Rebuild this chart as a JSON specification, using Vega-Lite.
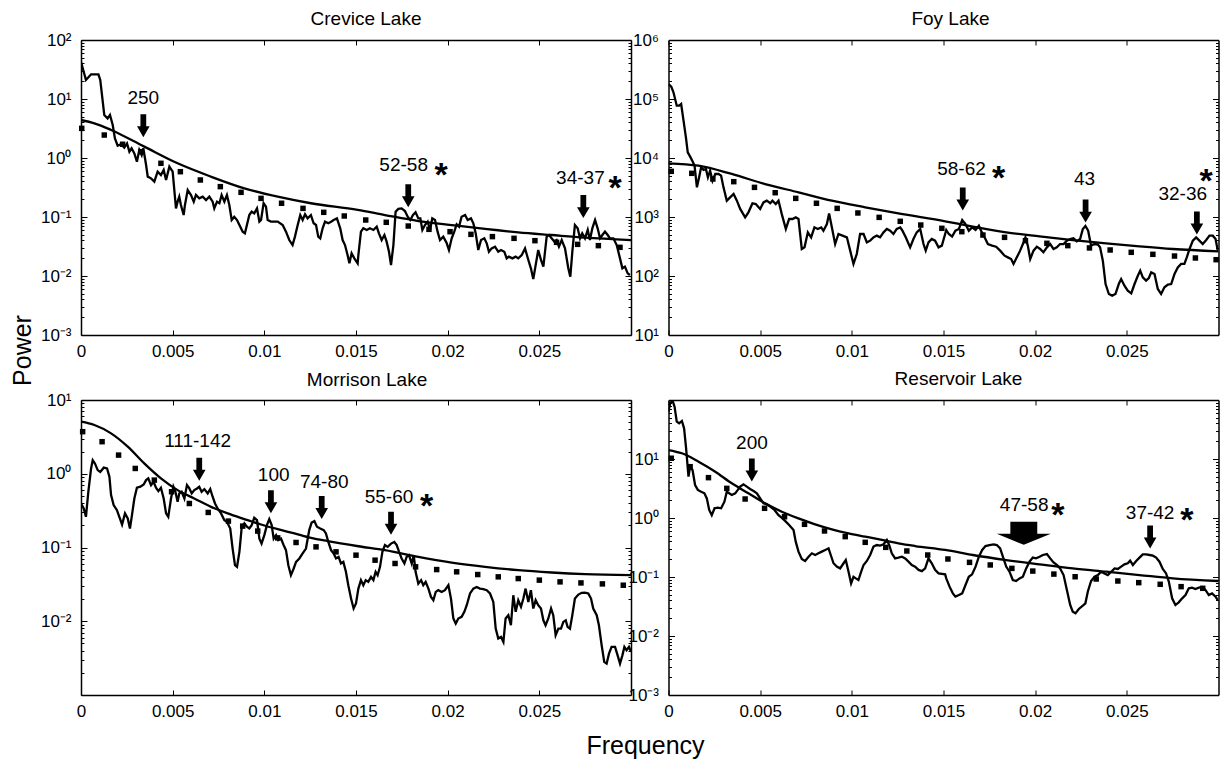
{
"$schema": "https://vega.github.io/schema/vega-lite/v6.json",
"autosize": {"type": "none"},
"padding": {"left": 81, "top": 40, "right": 1141, "bottom": 723},
"background": "white",
"config": {
  "font": "Liberation Sans",
  "view": {"stroke": null},
  "title": {"fontSize": 19, "fontWeight": "normal", "font": "Liberation Sans", "color": "black", "anchor": "middle", "frame": "group", "baseline": "alphabetic"},
  "axis": {"grid": false, "tickSize": -5, "tickColor": "black", "tickWidth": 1, "domainColor": "black", "domainWidth": 1.5, "labelFont": "Liberation Sans", "labelFontSize": 17, "labelColor": "black", "labelFlush": false, "labelOverlap": false, "labelPadding": 16, "titleFont": "Liberation Sans", "titleFontSize": 25, "titleFontWeight": "normal", "titleColor": "black"},
  "text": {"font": "Liberation Sans", "color": "black"}
},
"datasets": {
"cs": [{"f":0,"p":42.9},{"f":0.00027,"p":21},{"f":0.00055,"p":26.2},{"f":0.00095,"p":26.2},{"f":0.00105,"p":21},{"f":0.00127,"p":5.36},{"f":0.00145,"p":4.7},{"f":0.00158,"p":5.36},{"f":0.00173,"p":3.62},{"f":0.00185,"p":2.15},{"f":0.002,"p":1.62},{"f":0.00218,"p":1.71},{"f":0.00236,"p":1.5},{"f":0.00251,"p":1.77},{"f":0.00264,"p":1.28},{"f":0.00276,"p":1.46},{"f":0.00291,"p":1.2},{"f":0.00305,"p":0.867},{"f":0.00318,"p":1.37},{"f":0.00331,"p":1.12},{"f":0.0034,"p":1.46},{"f":0.00355,"p":0.76},{"f":0.00364,"p":0.483},{"f":0.00382,"p":0.452},{"f":0.004,"p":0.397},{"f":0.00418,"p":0.586},{"f":0.00436,"p":0.515},{"f":0.00451,"p":0.627},{"f":0.00464,"p":0.424},{"f":0.00482,"p":0.713},{"f":0.005,"p":0.586},{"f":0.00518,"p":0.14},{"f":0.00527,"p":0.182},{"f":0.00536,"p":0.221},{"f":0.00545,"p":0.16},{"f":0.0056,"p":0.108},{"f":0.00567,"p":0.16},{"f":0.00582,"p":0.287},{"f":0.006,"p":0.236},{"f":0.00615,"p":0.182},{"f":0.00627,"p":0.236},{"f":0.00645,"p":0.207},{"f":0.00664,"p":0.221},{"f":0.00682,"p":0.194},{"f":0.007,"p":0.221},{"f":0.00718,"p":0.182},{"f":0.00727,"p":0.14},{"f":0.00742,"p":0.182},{"f":0.00755,"p":0.171},{"f":0.00767,"p":0.236},{"f":0.00782,"p":0.182},{"f":0.00796,"p":0.236},{"f":0.00809,"p":0.16},{"f":0.00822,"p":0.0889},{"f":0.00836,"p":0.101},{"f":0.00851,"p":0.0889},{"f":0.00864,"p":0.0731},{"f":0.00882,"p":0.0564},{"f":0.00894,"p":0.0528},{"f":0.00905,"p":0.0731},{"f":0.00918,"p":0.108},{"f":0.00931,"p":0.123},{"f":0.00945,"p":0.115},{"f":0.0096,"p":0.14},{"f":0.00973,"p":0.0834},{"f":0.00982,"p":0.0889},{"f":0.00996,"p":0.171},{"f":0.01009,"p":0.15},{"f":0.01018,"p":0.0889},{"f":0.01036,"p":0.0834},{"f":0.01054,"p":0.0834},{"f":0.01073,"p":0.0834},{"f":0.011,"p":0.0731},{"f":0.01118,"p":0.0564},{"f":0.01136,"p":0.0407},{"f":0.01154,"p":0.0335},{"f":0.01167,"p":0.0465},{"f":0.01182,"p":0.0731},{"f":0.01196,"p":0.108},{"f":0.01209,"p":0.0889},{"f":0.01222,"p":0.111},{"f":0.01236,"p":0.0948},{"f":0.01254,"p":0.108},{"f":0.01269,"p":0.0782},{"f":0.01282,"p":0.0731},{"f":0.01294,"p":0.0465},{"f":0.01305,"p":0.0435},{"f":0.01318,"p":0.0643},{"f":0.01331,"p":0.0834},{"f":0.01349,"p":0.0782},{"f":0.01364,"p":0.0834},{"f":0.01378,"p":0.0889},{"f":0.01396,"p":0.0948},{"f":0.01414,"p":0.0643},{"f":0.01427,"p":0.0407},{"f":0.0144,"p":0.0335},{"f":0.01454,"p":0.0227},{"f":0.01464,"p":0.0164},{"f":0.01476,"p":0.0242},{"f":0.01491,"p":0.0199},{"f":0.01509,"p":0.0164},{"f":0.01513,"p":0.0227},{"f":0.01527,"p":0.0564},{"f":0.0154,"p":0.0643},{"f":0.01558,"p":0.0603},{"f":0.01576,"p":0.0643},{"f":0.01595,"p":0.0603},{"f":0.01613,"p":0.0686},{"f":0.01625,"p":0.0528},{"f":0.0164,"p":0.0407},{"f":0.01655,"p":0.0495},{"f":0.01667,"p":0.0382},{"f":0.0168,"p":0.0258},{"f":0.01691,"p":0.0153},{"f":0.01704,"p":0.0335},{"f":0.01716,"p":0.123},{"f":0.01731,"p":0.137},{"f":0.01749,"p":0.14},{"f":0.01767,"p":0.126},{"f":0.01782,"p":0.101},{"f":0.01796,"p":0.0889},{"f":0.01811,"p":0.108},{"f":0.01825,"p":0.12},{"f":0.0184,"p":0.0948},{"f":0.01851,"p":0.0948},{"f":0.01862,"p":0.0603},{"f":0.01876,"p":0.0731},{"f":0.01891,"p":0.0834},{"f":0.01904,"p":0.0603},{"f":0.01916,"p":0.0948},{"f":0.01931,"p":0.0889},{"f":0.01945,"p":0.0564},{"f":0.01958,"p":0.0407},{"f":0.01976,"p":0.0465},{"f":0.01995,"p":0.0358},{"f":0.02007,"p":0.0276},{"f":0.02022,"p":0.0435},{"f":0.02036,"p":0.0564},{"f":0.02049,"p":0.0752},{"f":0.02062,"p":0.0686},{"f":0.02076,"p":0.101},{"f":0.02095,"p":0.108},{"f":0.02109,"p":0.0889},{"f":0.02127,"p":0.0948},{"f":0.0214,"p":0.0782},{"f":0.02153,"p":0.0528},{"f":0.02167,"p":0.0276},{"f":0.02182,"p":0.0407},{"f":0.022,"p":0.0435},{"f":0.02213,"p":0.0358},{"f":0.02225,"p":0.0258},{"f":0.0224,"p":0.0294},{"f":0.02258,"p":0.0314},{"f":0.02276,"p":0.0258},{"f":0.02291,"p":0.0276},{"f":0.02309,"p":0.0258},{"f":0.02322,"p":0.0199},{"f":0.02334,"p":0.0213},{"f":0.02353,"p":0.0199},{"f":0.02371,"p":0.0213},{"f":0.02385,"p":0.0199},{"f":0.02404,"p":0.0227},{"f":0.02422,"p":0.0294},{"f":0.0244,"p":0.0187},{"f":0.02454,"p":0.0135},{"f":0.02467,"p":0.00889},{"f":0.0248,"p":0.0153},{"f":0.02494,"p":0.0276},{"f":0.02509,"p":0.0187},{"f":0.02522,"p":0.0144},{"f":0.0254,"p":0.0465},{"f":0.02553,"p":0.0495},{"f":0.02567,"p":0.0435},{"f":0.02582,"p":0.0382},{"f":0.02594,"p":0.0407},{"f":0.02607,"p":0.0314},{"f":0.02622,"p":0.0407},{"f":0.0264,"p":0.0294},{"f":0.02658,"p":0.0135},{"f":0.02669,"p":0.00975},{"f":0.0268,"p":0.0258},{"f":0.02694,"p":0.0731},{"f":0.02709,"p":0.0643},{"f":0.02722,"p":0.0435},{"f":0.02734,"p":0.0528},{"f":0.02749,"p":0.0435},{"f":0.02764,"p":0.0603},{"f":0.02776,"p":0.0407},{"f":0.02789,"p":0.0643},{"f":0.02804,"p":0.0889},{"f":0.02818,"p":0.0643},{"f":0.02831,"p":0.0435},{"f":0.02844,"p":0.0495},{"f":0.02858,"p":0.0564},{"f":0.02873,"p":0.0495},{"f":0.02885,"p":0.0435},{"f":0.02904,"p":0.0435},{"f":0.02922,"p":0.0335},{"f":0.0294,"p":0.0199},{"f":0.02953,"p":0.0135},{"f":0.02967,"p":0.0144},{"f":0.02982,"p":0.0111},{"f":0.02994,"p":0.0104}],
"cf": [{"f":0,"p":4.41},{"f":0.00073,"p":3.87},{"f":0.00164,"p":2.99},{"f":0.00345,"p":1.56},{"f":0.00527,"p":0.813},{"f":0.00709,"p":0.483},{"f":0.00891,"p":0.306},{"f":0.01073,"p":0.221},{"f":0.01254,"p":0.171},{"f":0.01509,"p":0.132},{"f":0.01658,"p":0.108},{"f":0.0184,"p":0.0855},{"f":0.02022,"p":0.0731},{"f":0.02204,"p":0.0627},{"f":0.02385,"p":0.055},{"f":0.02567,"p":0.0495},{"f":0.02749,"p":0.0447},{"f":0.03,"p":0.0407}],
"cc": [{"f":0.00004,"p":3.18},{"f":0.00127,"p":2.45},{"f":0.00227,"p":1.71},{"f":0.00327,"p":1.28},{"f":0.00436,"p":0.813},{"f":0.00542,"p":0.586},{"f":0.00651,"p":0.424},{"f":0.0076,"p":0.327},{"f":0.00873,"p":0.262},{"f":0.00982,"p":0.207},{"f":0.01094,"p":0.171},{"f":0.01211,"p":0.14},{"f":0.01324,"p":0.12},{"f":0.01436,"p":0.104},{"f":0.01553,"p":0.0889},{"f":0.01665,"p":0.0813},{"f":0.01785,"p":0.0703},{"f":0.01898,"p":0.0618},{"f":0.02013,"p":0.0564},{"f":0.02127,"p":0.0508},{"f":0.02244,"p":0.0465},{"f":0.02362,"p":0.0435},{"f":0.02476,"p":0.0397},{"f":0.02594,"p":0.0372},{"f":0.02709,"p":0.0344},{"f":0.02822,"p":0.0327},{"f":0.0294,"p":0.0306}],
"ca": [{"f":0.0034,"p":10.3,"k":"label","t":"250"},{"f":0.0034,"p":3.53,"k":"arrow"},{"f":0.0176,"p":0.76,"k":"label","t":"52-58"},{"f":0.01964,"p":0.713,"k":"star"},{"f":0.01785,"p":0.23,"k":"arrow"},{"f":0.02724,"p":0.452,"k":"label","t":"34-37"},{"f":0.02913,"p":0.424,"k":"star"},{"f":0.0274,"p":0.15,"k":"arrow"}],
"fs": [{"f":0,"p":179500},{"f":0.00015,"p":161800},{"f":0.00027,"p":129700},{"f":0.00045,"p":77100},{"f":0.00058,"p":77100},{"f":0.00069,"p":82200},{"f":0.00082,"p":42950},{"f":0.00095,"p":22390},{"f":0.00105,"p":12470},{"f":0.00118,"p":10540},{"f":0.00131,"p":8790},{"f":0.00142,"p":7410},{"f":0.00155,"p":3180},{"f":0.00167,"p":4700},{"f":0.00178,"p":6950},{"f":0.00191,"p":6270},{"f":0.00204,"p":6520},{"f":0.00215,"p":4700},{"f":0.00227,"p":6100},{"f":0.0024,"p":4130},{"f":0.00255,"p":5360},{"f":0.00273,"p":5360},{"f":0.00287,"p":5020},{"f":0.003,"p":3180},{"f":0.00318,"p":1890},{"f":0.00336,"p":2150},{"f":0.00355,"p":2450},{"f":0.00373,"p":1890},{"f":0.00391,"p":1370},{"f":0.00418,"p":986},{"f":0.00436,"p":1200},{"f":0.00458,"p":1710},{"f":0.00476,"p":1660},{"f":0.005,"p":1370},{"f":0.00518,"p":1770},{"f":0.00536,"p":1890},{"f":0.00555,"p":1710},{"f":0.00567,"p":1890},{"f":0.00585,"p":1660},{"f":0.006,"p":1890},{"f":0.00618,"p":1120},{"f":0.0064,"p":627},{"f":0.00658,"p":925},{"f":0.00676,"p":925},{"f":0.00694,"p":986},{"f":0.00709,"p":925},{"f":0.00727,"p":287},{"f":0.00742,"p":306},{"f":0.0076,"p":550},{"f":0.00778,"p":452},{"f":0.00796,"p":668},{"f":0.00814,"p":627},{"f":0.00833,"p":668},{"f":0.00845,"p":586},{"f":0.00864,"p":760},{"f":0.00876,"p":1150},{"f":0.00891,"p":668},{"f":0.00909,"p":348},{"f":0.00927,"p":515},{"f":0.00949,"p":483},{"f":0.00973,"p":452},{"f":0.00991,"p":269},{"f":0.01009,"p":160},{"f":0.01027,"p":236},{"f":0.01045,"p":515},{"f":0.01064,"p":515},{"f":0.01082,"p":372},{"f":0.011,"p":397},{"f":0.01118,"p":452},{"f":0.01136,"p":483},{"f":0.01154,"p":452},{"f":0.01173,"p":550},{"f":0.01191,"p":627},{"f":0.01209,"p":586},{"f":0.01227,"p":515},{"f":0.01245,"p":627},{"f":0.01264,"p":668},{"f":0.01276,"p":586},{"f":0.01294,"p":452},{"f":0.01318,"p":306},{"f":0.01336,"p":424},{"f":0.01354,"p":550},{"f":0.01373,"p":627},{"f":0.01391,"p":348},{"f":0.01403,"p":269},{"f":0.01418,"p":372},{"f":0.01436,"p":424},{"f":0.01454,"p":397},{"f":0.01473,"p":306},{"f":0.01491,"p":327},{"f":0.01509,"p":515},{"f":0.01515,"p":603},{"f":0.01529,"p":515},{"f":0.01547,"p":465},{"f":0.01565,"p":586},{"f":0.01584,"p":627},{"f":0.01602,"p":889},{"f":0.0162,"p":760},{"f":0.01638,"p":586},{"f":0.01656,"p":668},{"f":0.01675,"p":603},{"f":0.01693,"p":713},{"f":0.01705,"p":586},{"f":0.01724,"p":452},{"f":0.01742,"p":348},{"f":0.01765,"p":327},{"f":0.01787,"p":314},{"f":0.01809,"p":269},{"f":0.01833,"p":221},{"f":0.01851,"p":207},{"f":0.01869,"p":194},{"f":0.01882,"p":160},{"f":0.019,"p":207},{"f":0.01918,"p":269},{"f":0.01933,"p":348},{"f":0.01947,"p":452},{"f":0.0196,"p":327},{"f":0.01973,"p":194},{"f":0.01991,"p":269},{"f":0.02009,"p":314},{"f":0.02027,"p":287},{"f":0.02045,"p":252},{"f":0.02064,"p":306},{"f":0.02082,"p":348},{"f":0.021,"p":287},{"f":0.02118,"p":306},{"f":0.02136,"p":348},{"f":0.02155,"p":348},{"f":0.02173,"p":397},{"f":0.02191,"p":424},{"f":0.02209,"p":435},{"f":0.02227,"p":387},{"f":0.02245,"p":424},{"f":0.0226,"p":627},{"f":0.02274,"p":703},{"f":0.02289,"p":586},{"f":0.02305,"p":327},{"f":0.02324,"p":348},{"f":0.02342,"p":340},{"f":0.02354,"p":306},{"f":0.02369,"p":182},{"f":0.02384,"p":73.1},{"f":0.02402,"p":49.5},{"f":0.0242,"p":46.5},{"f":0.02438,"p":49.5},{"f":0.02456,"p":73.1},{"f":0.02469,"p":88.9},{"f":0.02487,"p":68.5},{"f":0.02505,"p":56.4},{"f":0.02524,"p":50.8},{"f":0.02542,"p":73.1},{"f":0.0256,"p":101},{"f":0.02573,"p":123},{"f":0.02587,"p":94.8},{"f":0.02605,"p":83.4},{"f":0.0262,"p":92.5},{"f":0.02633,"p":115},{"f":0.02651,"p":108},{"f":0.02669,"p":60.3},{"f":0.02687,"p":49.5},{"f":0.02705,"p":64.3},{"f":0.02724,"p":71.3},{"f":0.02742,"p":73.1},{"f":0.0276,"p":108},{"f":0.02778,"p":140},{"f":0.02796,"p":160},{"f":0.02814,"p":160},{"f":0.02827,"p":207},{"f":0.02842,"p":287},{"f":0.0286,"p":397},{"f":0.02878,"p":452},{"f":0.02896,"p":397},{"f":0.02914,"p":348},{"f":0.02933,"p":407},{"f":0.02951,"p":483},{"f":0.02969,"p":483},{"f":0.02984,"p":424},{"f":0.02996,"p":269}],
"ff": [{"f":0,"p":8130},{"f":0.00164,"p":7410},{"f":0.00345,"p":5360},{"f":0.00527,"p":3620},{"f":0.00709,"p":2620},{"f":0.00891,"p":1890},{"f":0.01073,"p":1460},{"f":0.01254,"p":1150},{"f":0.01509,"p":845},{"f":0.0166,"p":690},{"f":0.01842,"p":550},{"f":0.02024,"p":470},{"f":0.02205,"p":407},{"f":0.02387,"p":358},{"f":0.02569,"p":318},{"f":0.02751,"p":287},{"f":0.03,"p":262}],
"fc": [{"f":0.00015,"p":5940},{"f":0.00127,"p":5500},{"f":0.00242,"p":4410},{"f":0.00356,"p":3970},{"f":0.00469,"p":3180},{"f":0.00582,"p":2580},{"f":0.00694,"p":2070},{"f":0.00807,"p":1710},{"f":0.0092,"p":1400},{"f":0.01033,"p":1170},{"f":0.01149,"p":986},{"f":0.01264,"p":845},{"f":0.01376,"p":731},{"f":0.01491,"p":643},{"f":0.016,"p":564},{"f":0.01715,"p":495},{"f":0.01833,"p":452},{"f":0.01947,"p":397},{"f":0.02064,"p":358},{"f":0.02178,"p":327},{"f":0.02296,"p":299},{"f":0.02409,"p":276},{"f":0.02524,"p":252},{"f":0.02642,"p":233},{"f":0.0276,"p":218},{"f":0.02874,"p":202},{"f":0.02987,"p":189}],
"fa": [{"f":0.01598,"p":6520,"k":"label","t":"58-62"},{"f":0.018,"p":6270,"k":"star"},{"f":0.01605,"p":2020,"k":"arrow"},{"f":0.02269,"p":4410,"k":"label","t":"43"},{"f":0.02275,"p":1260,"k":"arrow"},{"f":0.02805,"p":2450,"k":"label","t":"32-36"},{"f":0.02933,"p":5600,"k":"star"},{"f":0.02882,"p":791,"k":"arrow"}],
"ms": [{"f":0,"p":0.395},{"f":0.00015,"p":0.338},{"f":0.00027,"p":0.261},{"f":0.0004,"p":0.57},{"f":0.00055,"p":1.18},{"f":0.00064,"p":1.53},{"f":0.00076,"p":1.38},{"f":0.00091,"p":1.12},{"f":0.00105,"p":1.06},{"f":0.00124,"p":1.21},{"f":0.00142,"p":1.18},{"f":0.00155,"p":0.91},{"f":0.00164,"p":0.513},{"f":0.00178,"p":0.376},{"f":0.00196,"p":0.321},{"f":0.00209,"p":0.261},{"f":0.00224,"p":0.205},{"f":0.0024,"p":0.29},{"f":0.00255,"p":0.248},{"f":0.00267,"p":0.181},{"f":0.00278,"p":0.275},{"f":0.00291,"p":0.462},{"f":0.00305,"p":0.646},{"f":0.00324,"p":0.667},{"f":0.00342,"p":0.716},{"f":0.00355,"p":0.82},{"f":0.00367,"p":0.865},{"f":0.00382,"p":0.701},{"f":0.00396,"p":0.778},{"f":0.00409,"p":0.646},{"f":0.00422,"p":0.582},{"f":0.00436,"p":0.646},{"f":0.00451,"p":0.462},{"f":0.00464,"p":0.29},{"f":0.00476,"p":0.261},{"f":0.00491,"p":0.462},{"f":0.00504,"p":0.667},{"f":0.00515,"p":0.57},{"f":0.00527,"p":0.417},{"f":0.00536,"p":0.541},{"f":0.00549,"p":0.57},{"f":0.00564,"p":0.462},{"f":0.00578,"p":0.701},{"f":0.00591,"p":0.632},{"f":0.00604,"p":0.541},{"f":0.00618,"p":0.6},{"f":0.00633,"p":0.632},{"f":0.00645,"p":0.667},{"f":0.00658,"p":0.57},{"f":0.00673,"p":0.619},{"f":0.00691,"p":0.541},{"f":0.00705,"p":0.619},{"f":0.00718,"p":0.488},{"f":0.00731,"p":0.395},{"f":0.00745,"p":0.338},{"f":0.00764,"p":0.29},{"f":0.00782,"p":0.235},{"f":0.00796,"p":0.223},{"f":0.00814,"p":0.181},{"f":0.00827,"p":0.0968},{"f":0.0084,"p":0.0575},{"f":0.00851,"p":0.0547},{"f":0.00864,"p":0.0873},{"f":0.00876,"p":0.181},{"f":0.00891,"p":0.212},{"f":0.00905,"p":0.191},{"f":0.00918,"p":0.181},{"f":0.00931,"p":0.201},{"f":0.00945,"p":0.253},{"f":0.0096,"p":0.235},{"f":0.00973,"p":0.132},{"f":0.00985,"p":0.113},{"f":0.01,"p":0.147},{"f":0.01014,"p":0.201},{"f":0.01027,"p":0.243},{"f":0.0104,"p":0.201},{"f":0.01051,"p":0.132},{"f":0.01064,"p":0.147},{"f":0.01076,"p":0.126},{"f":0.01091,"p":0.132},{"f":0.01105,"p":0.108},{"f":0.01118,"p":0.092},{"f":0.01131,"p":0.0575},{"f":0.01145,"p":0.0421},{"f":0.0116,"p":0.0519},{"f":0.01173,"p":0.0638},{"f":0.01191,"p":0.071},{"f":0.01209,"p":0.083},{"f":0.01227,"p":0.0968},{"f":0.01245,"p":0.172},{"f":0.01258,"p":0.218},{"f":0.01273,"p":0.228},{"f":0.01287,"p":0.191},{"f":0.01305,"p":0.181},{"f":0.01324,"p":0.172},{"f":0.01336,"p":0.155},{"f":0.01349,"p":0.119},{"f":0.01364,"p":0.092},{"f":0.01378,"p":0.083},{"f":0.01391,"p":0.071},{"f":0.01405,"p":0.0746},{"f":0.01418,"p":0.0607},{"f":0.01431,"p":0.0638},{"f":0.01445,"p":0.0468},{"f":0.01458,"p":0.0308},{"f":0.01473,"p":0.0203},{"f":0.01487,"p":0.0149},{"f":0.015,"p":0.0174},{"f":0.01513,"p":0.0277},{"f":0.01527,"p":0.0361},{"f":0.0154,"p":0.0308},{"f":0.01553,"p":0.0361},{"f":0.01567,"p":0.0342},{"f":0.01582,"p":0.04},{"f":0.01595,"p":0.0361},{"f":0.01607,"p":0.0468},{"f":0.01618,"p":0.0421},{"f":0.01631,"p":0.0547},{"f":0.01644,"p":0.0873},{"f":0.01658,"p":0.108},{"f":0.01673,"p":0.102},{"f":0.01691,"p":0.113},{"f":0.01709,"p":0.119},{"f":0.01722,"p":0.108},{"f":0.01735,"p":0.0873},{"f":0.01749,"p":0.071},{"f":0.01764,"p":0.0607},{"f":0.01776,"p":0.0746},{"f":0.01789,"p":0.0787},{"f":0.01804,"p":0.0607},{"f":0.01815,"p":0.0787},{"f":0.01825,"p":0.0468},{"f":0.0184,"p":0.0324},{"f":0.01855,"p":0.0361},{"f":0.01867,"p":0.0308},{"f":0.0188,"p":0.0342},{"f":0.01895,"p":0.0277},{"f":0.01909,"p":0.0214},{"f":0.01922,"p":0.0193},{"f":0.01935,"p":0.025},{"f":0.01949,"p":0.0264},{"f":0.01967,"p":0.025},{"f":0.01985,"p":0.0264},{"f":0.02004,"p":0.0308},{"f":0.02018,"p":0.0203},{"f":0.02031,"p":0.0109},{"f":0.02044,"p":0.00929},{"f":0.02058,"p":0.0109},{"f":0.02076,"p":0.0115},{"f":0.02091,"p":0.0134},{"f":0.02104,"p":0.0165},{"f":0.02122,"p":0.0238},{"f":0.0214,"p":0.0277},{"f":0.02158,"p":0.0292},{"f":0.02176,"p":0.0277},{"f":0.02194,"p":0.0272},{"f":0.02213,"p":0.0264},{"f":0.02231,"p":0.0238},{"f":0.02249,"p":0.0183},{"f":0.02262,"p":0.00794},{"f":0.02276,"p":0.00582},{"f":0.02291,"p":0.00612},{"f":0.02304,"p":0.00524},{"f":0.02316,"p":0.0109},{"f":0.02331,"p":0.0121},{"f":0.02345,"p":0.00883},{"f":0.02358,"p":0.0225},{"f":0.02371,"p":0.0134},{"f":0.02385,"p":0.0193},{"f":0.024,"p":0.0157},{"f":0.02413,"p":0.0203},{"f":0.02425,"p":0.0277},{"f":0.0244,"p":0.0183},{"f":0.02454,"p":0.0264},{"f":0.02467,"p":0.0149},{"f":0.0248,"p":0.0193},{"f":0.02494,"p":0.0165},{"f":0.02509,"p":0.0149},{"f":0.02522,"p":0.0103},{"f":0.02534,"p":0.00883},{"f":0.02549,"p":0.0109},{"f":0.02564,"p":0.0149},{"f":0.02576,"p":0.0121},{"f":0.02589,"p":0.00646},{"f":0.02604,"p":0.00794},{"f":0.02618,"p":0.00794},{"f":0.02631,"p":0.0098},{"f":0.02644,"p":0.0103},{"f":0.02654,"p":0.00838},{"f":0.02667,"p":0.00794},{"f":0.0268,"p":0.0121},{"f":0.02694,"p":0.0203},{"f":0.02713,"p":0.023},{"f":0.02731,"p":0.0243},{"f":0.02749,"p":0.0245},{"f":0.02767,"p":0.0238},{"f":0.02782,"p":0.0203},{"f":0.02794,"p":0.0149},{"f":0.02813,"p":0.0121},{"f":0.02825,"p":0.00883},{"f":0.0284,"p":0.00472},{"f":0.02854,"p":0.00281},{"f":0.02867,"p":0.00266},{"f":0.0288,"p":0.00364},{"f":0.02894,"p":0.00449},{"f":0.02913,"p":0.00449},{"f":0.02927,"p":0.00345},{"f":0.0294,"p":0.00266},{"f":0.02953,"p":0.00345},{"f":0.02964,"p":0.00449},{"f":0.02976,"p":0.00404},{"f":0.02989,"p":0.00449},{"f":0.03,"p":0.00384}],
"mf": [{"f":0,"p":5.08},{"f":0.00073,"p":4.58},{"f":0.00164,"p":3.53},{"f":0.00255,"p":2.33},{"f":0.00345,"p":1.38},{"f":0.00436,"p":0.865},{"f":0.00527,"p":0.6},{"f":0.00618,"p":0.462},{"f":0.00709,"p":0.356},{"f":0.008,"p":0.29},{"f":0.00891,"p":0.243},{"f":0.00982,"p":0.205},{"f":0.01073,"p":0.177},{"f":0.01164,"p":0.155},{"f":0.01254,"p":0.135},{"f":0.01345,"p":0.122},{"f":0.01513,"p":0.104},{"f":0.01658,"p":0.092},{"f":0.0184,"p":0.0746},{"f":0.02022,"p":0.0625},{"f":0.02204,"p":0.0547},{"f":0.02385,"p":0.0492},{"f":0.02567,"p":0.0458},{"f":0.02749,"p":0.0435},{"f":0.03,"p":0.0421}],
"mc": [{"f":0.00009,"p":3.72},{"f":0.00115,"p":2.72},{"f":0.00205,"p":1.79},{"f":0.00296,"p":1.18},{"f":0.004,"p":0.82},{"f":0.00494,"p":0.57},{"f":0.00591,"p":0.395},{"f":0.00694,"p":0.299},{"f":0.00804,"p":0.228},{"f":0.00882,"p":0.195},{"f":0.00964,"p":0.167},{"f":0.01073,"p":0.135},{"f":0.01173,"p":0.117},{"f":0.01282,"p":0.102},{"f":0.01391,"p":0.0873},{"f":0.015,"p":0.0787},{"f":0.01604,"p":0.0673},{"f":0.01713,"p":0.0607},{"f":0.01825,"p":0.0547},{"f":0.0194,"p":0.0502},{"f":0.02049,"p":0.0468},{"f":0.02164,"p":0.043},{"f":0.02276,"p":0.04},{"f":0.02385,"p":0.0379},{"f":0.025,"p":0.0361},{"f":0.02613,"p":0.0342},{"f":0.02727,"p":0.0331},{"f":0.02844,"p":0.0321},{"f":0.02958,"p":0.0308}],
"ma": [{"f":0.00636,"p":2.81,"k":"label","t":"111-142"},{"f":0.00645,"p":1.15,"k":"arrow"},{"f":0.01051,"p":0.959,"k":"label","t":"100"},{"f":0.01036,"p":0.417,"k":"arrow"},{"f":0.01327,"p":0.778,"k":"label","t":"74-80"},{"f":0.01313,"p":0.349,"k":"arrow"},{"f":0.0168,"p":0.488,"k":"label","t":"55-60"},{"f":0.01885,"p":0.472,"k":"star"},{"f":0.01691,"p":0.214,"k":"arrow"}],
"rs": [{"f":0,"p":63.4},{"f":0.00009,"p":87.9},{"f":0.00022,"p":98},{"f":0.00033,"p":77.1},{"f":0.00045,"p":43},{"f":0.00058,"p":40.3},{"f":0.00073,"p":44.1},{"f":0.00085,"p":33.1},{"f":0.00096,"p":15.2},{"f":0.00109,"p":5.02},{"f":0.00118,"p":7.41},{"f":0.00131,"p":6.52},{"f":0.00145,"p":3.62},{"f":0.0016,"p":2.99},{"f":0.00178,"p":2.79},{"f":0.00196,"p":2.62},{"f":0.00209,"p":2.15},{"f":0.00222,"p":1.37},{"f":0.00236,"p":1.12},{"f":0.00251,"p":1.46},{"f":0.00269,"p":1.5},{"f":0.00287,"p":1.46},{"f":0.00305,"p":1.89},{"f":0.00318,"p":2.79},{"f":0.00331,"p":2.62},{"f":0.00345,"p":2.45},{"f":0.00364,"p":2.62},{"f":0.00378,"p":2.99},{"f":0.00391,"p":3.4},{"f":0.00409,"p":3.72},{"f":0.00427,"p":3.4},{"f":0.00445,"p":3.1},{"f":0.00464,"p":2.87},{"f":0.00482,"p":2.62},{"f":0.005,"p":2.15},{"f":0.00518,"p":1.77},{"f":0.00536,"p":1.71},{"f":0.00555,"p":1.56},{"f":0.00578,"p":1.37},{"f":0.006,"p":1.12},{"f":0.00622,"p":0.986},{"f":0.0064,"p":0.867},{"f":0.00658,"p":0.76},{"f":0.00682,"p":0.627},{"f":0.00694,"p":0.397},{"f":0.00709,"p":0.269},{"f":0.00727,"p":0.202},{"f":0.00745,"p":0.187},{"f":0.00764,"p":0.221},{"f":0.00782,"p":0.252},{"f":0.008,"p":0.236},{"f":0.00818,"p":0.252},{"f":0.00836,"p":0.269},{"f":0.00855,"p":0.287},{"f":0.00873,"p":0.306},{"f":0.00885,"p":0.236},{"f":0.009,"p":0.171},{"f":0.00918,"p":0.15},{"f":0.00936,"p":0.14},{"f":0.00955,"p":0.171},{"f":0.00967,"p":0.194},{"f":0.00982,"p":0.123},{"f":0.00996,"p":0.0782},{"f":0.01009,"p":0.101},{"f":0.01022,"p":0.0948},{"f":0.01036,"p":0.0889},{"f":0.01051,"p":0.123},{"f":0.01064,"p":0.16},{"f":0.01082,"p":0.187},{"f":0.011,"p":0.236},{"f":0.01118,"p":0.327},{"f":0.01136,"p":0.348},{"f":0.01154,"p":0.34},{"f":0.01173,"p":0.358},{"f":0.01191,"p":0.424},{"f":0.01204,"p":0.348},{"f":0.01218,"p":0.252},{"f":0.01236,"p":0.207},{"f":0.01254,"p":0.213},{"f":0.01273,"p":0.221},{"f":0.01291,"p":0.207},{"f":0.01309,"p":0.182},{"f":0.01327,"p":0.16},{"f":0.01345,"p":0.15},{"f":0.01364,"p":0.132},{"f":0.01382,"p":0.126},{"f":0.014,"p":0.14},{"f":0.01418,"p":0.207},{"f":0.01436,"p":0.171},{"f":0.01454,"p":0.132},{"f":0.01473,"p":0.115},{"f":0.01509,"p":0.111},{"f":0.01515,"p":0.0948},{"f":0.01533,"p":0.0686},{"f":0.01551,"p":0.0528},{"f":0.01565,"p":0.0465},{"f":0.01584,"p":0.0495},{"f":0.01602,"p":0.0528},{"f":0.0162,"p":0.0731},{"f":0.01638,"p":0.101},{"f":0.01656,"p":0.111},{"f":0.01675,"p":0.15},{"f":0.01693,"p":0.221},{"f":0.01711,"p":0.287},{"f":0.01729,"p":0.335},{"f":0.01751,"p":0.348},{"f":0.01773,"p":0.358},{"f":0.01791,"p":0.348},{"f":0.01809,"p":0.306},{"f":0.01827,"p":0.207},{"f":0.01842,"p":0.15},{"f":0.0186,"p":0.123},{"f":0.01878,"p":0.0889},{"f":0.01896,"p":0.0855},{"f":0.01915,"p":0.0948},{"f":0.01933,"p":0.101},{"f":0.01951,"p":0.14},{"f":0.01969,"p":0.182},{"f":0.01987,"p":0.213},{"f":0.02005,"p":0.207},{"f":0.02024,"p":0.221},{"f":0.02042,"p":0.236},{"f":0.02064,"p":0.245},{"f":0.02082,"p":0.207},{"f":0.021,"p":0.177},{"f":0.02118,"p":0.16},{"f":0.02136,"p":0.14},{"f":0.02155,"p":0.108},{"f":0.02173,"p":0.0603},{"f":0.02191,"p":0.0335},{"f":0.02205,"p":0.0258},{"f":0.0222,"p":0.0242},{"f":0.02238,"p":0.0287},{"f":0.0226,"p":0.0327},{"f":0.02274,"p":0.0358},{"f":0.02287,"p":0.0564},{"f":0.02305,"p":0.0855},{"f":0.02324,"p":0.101},{"f":0.02342,"p":0.108},{"f":0.0236,"p":0.123},{"f":0.02378,"p":0.115},{"f":0.02396,"p":0.108},{"f":0.02415,"p":0.123},{"f":0.02433,"p":0.14},{"f":0.02451,"p":0.137},{"f":0.02469,"p":0.15},{"f":0.02487,"p":0.164},{"f":0.02505,"p":0.171},{"f":0.02518,"p":0.189},{"f":0.02533,"p":0.16},{"f":0.02551,"p":0.187},{"f":0.02569,"p":0.213},{"f":0.02587,"p":0.242},{"f":0.02605,"p":0.242},{"f":0.02624,"p":0.236},{"f":0.02642,"p":0.23},{"f":0.0266,"p":0.213},{"f":0.02678,"p":0.182},{"f":0.02696,"p":0.137},{"f":0.02714,"p":0.115},{"f":0.02729,"p":0.0834},{"f":0.02747,"p":0.0435},{"f":0.02765,"p":0.0335},{"f":0.02783,"p":0.0372},{"f":0.02802,"p":0.0435},{"f":0.0282,"p":0.0495},{"f":0.02838,"p":0.0643},{"f":0.02856,"p":0.0659},{"f":0.02874,"p":0.0627},{"f":0.02893,"p":0.0659},{"f":0.02911,"p":0.0678},{"f":0.02929,"p":0.0603},{"f":0.02947,"p":0.0495},{"f":0.02965,"p":0.0528},{"f":0.02984,"p":0.0465},{"f":0.02996,"p":0.0407}],
"rf": [{"f":0,"p":14.2},{"f":0.00073,"p":12.5},{"f":0.00164,"p":9.02},{"f":0.00255,"p":6.1},{"f":0.00345,"p":3.87},{"f":0.00436,"p":2.62},{"f":0.00527,"p":1.77},{"f":0.00618,"p":1.28},{"f":0.00709,"p":0.986},{"f":0.008,"p":0.782},{"f":0.00891,"p":0.643},{"f":0.00982,"p":0.55},{"f":0.01073,"p":0.483},{"f":0.01164,"p":0.424},{"f":0.01254,"p":0.372},{"f":0.01345,"p":0.335},{"f":0.01509,"p":0.287},{"f":0.0166,"p":0.236},{"f":0.01842,"p":0.194},{"f":0.02024,"p":0.164},{"f":0.02205,"p":0.14},{"f":0.02387,"p":0.123},{"f":0.02569,"p":0.108},{"f":0.02751,"p":0.0948},{"f":0.03,"p":0.0855}],
"rc": [{"f":0.00015,"p":10.3},{"f":0.00118,"p":7.41},{"f":0.00218,"p":4.83},{"f":0.00318,"p":3.18},{"f":0.00418,"p":2.1},{"f":0.00524,"p":1.46},{"f":0.00633,"p":1.05},{"f":0.00742,"p":0.782},{"f":0.00851,"p":0.603},{"f":0.00964,"p":0.483},{"f":0.01073,"p":0.387},{"f":0.01185,"p":0.318},{"f":0.013,"p":0.276},{"f":0.01414,"p":0.236},{"f":0.01524,"p":0.202},{"f":0.01642,"p":0.177},{"f":0.01755,"p":0.16},{"f":0.01873,"p":0.14},{"f":0.01987,"p":0.126},{"f":0.02102,"p":0.112},{"f":0.02218,"p":0.101},{"f":0.02333,"p":0.0925},{"f":0.02451,"p":0.0855},{"f":0.02565,"p":0.0802},{"f":0.02682,"p":0.0752},{"f":0.02796,"p":0.0686},{"f":0.02914,"p":0.0643}],
"ra": [{"f":0.00455,"p":18.9,"k":"label","t":"200"},{"f":0.004545,"p":6.52,"k":"arrow"},{"f":0.0194,"p":1.66,"k":"label","t":"47-58"},{"f":0.02124,"p":1.56,"k":"star"},{"f":0.01938,"p":0.55,"k":"bigarrow"},{"f":0.02627,"p":1.2,"k":"label","t":"37-42"},{"f":0.02827,"p":1.28,"k":"star"},{"f":0.02627,"p":0.476,"k":"arrow"}]
},
"columns": 2,
"spacing": {"row": 65, "column": 37.5},
"bounds": "flush",
"concat": [
{
 "title": {"text": "Crevice Lake", "dx": 10, "offset": 2},
 "width": 550, "height": 295,
 "layer": [
  {"data": {"name": "cs"}, "mark": {"type": "line", "color": "black", "strokeWidth": 2.3, "clip": true},
   "encoding": {
    "x": {"field": "f", "type": "quantitative", "scale": {"domain": [0, 0.03], "nice": false, "zero": false}, "axis": {"orient": "bottom", "values": [0,0.005,0.01,0.015,0.02,0.025], "format": "~g", "title": null, "labelPadding": 13}},
    "y": {"field": "p", "type": "quantitative", "scale": {"type": "log", "domain": [0.001, 100], "nice": false}, "axis": {"orient": "left", "values": [0.001,0.002,0.003,0.004,0.005,0.006,0.007,0.008,0.009,0.01,0.02,0.03,0.04,0.05,0.06,0.07,0.08,0.09,0.1,0.2,0.3,0.4,0.5,0.6,0.7,0.8,0.9,1,2,3,4,5,6,7,8,9,10,20,30,40,50,60,70,80,90,100], "labelExpr": "abs(log(datum.value)/LN10-round(log(datum.value)/LN10))<0.01 ? '10'+replace(replace(replace(replace(replace(replace(replace(replace(''+round(log(datum.value)/LN10),'-','⁻'),'0','⁰'),'1','¹'),'2','²'),'3','³'),'4','⁴'),'5','⁵'),'6','⁶') : ''", "tickSize": {"condition": {"test": "abs(log(datum.value)/LN10-round(log(datum.value)/LN10))<0.01", "value": -6}, "value": -3}, "title": "Power", "titleX": -51, "titleY": 310, "titleAngle": 270, "titleAlign": "center", "titleBaseline": "alphabetic"}}
   }},
  {"data": {"name": "cf"}, "mark": {"type": "line", "color": "black", "strokeWidth": 2.3, "interpolate": "monotone", "clip": true},
   "encoding": {
    "x": {"field": "f", "type": "quantitative", "scale": {"domain": [0, 0.03], "nice": false, "zero": false}, "axis": {"orient": "top", "values": [0,0.005,0.01,0.015,0.02,0.025], "labels": false, "title": null}},
    "y": {"field": "p", "type": "quantitative", "scale": {"type": "log", "domain": [0.001, 100], "nice": false}, "axis": {"orient": "right", "values": [0.001,0.002,0.003,0.004,0.005,0.006,0.007,0.008,0.009,0.01,0.02,0.03,0.04,0.05,0.06,0.07,0.08,0.09,0.1,0.2,0.3,0.4,0.5,0.6,0.7,0.8,0.9,1,2,3,4,5,6,7,8,9,10,20,30,40,50,60,70,80,90,100], "labels": false, "title": null, "tickSize": {"condition": {"test": "abs(log(datum.value)/LN10-round(log(datum.value)/LN10))<0.01", "value": -6}, "value": -3}}}
   }},
  {"data": {"name": "cc"}, "mark": {"type": "point", "shape": "square", "filled": true, "size": 30, "color": "black", "opacity": 1},
   "encoding": {"x": {"field": "f", "type": "quantitative", "axis": null}, "y": {"field": "p", "type": "quantitative", "axis": null}}},
  {"data": {"name": "ca"}, "transform": [{"filter": "datum.k==='arrow'"}], "mark": {"type": "point", "shape": "M-0.25,-1L0.25,-1L0.25,0.05L0.55,0.05L0,1L-0.55,0.05L-0.25,0.05Z", "filled": true, "size": 529, "color": "black", "opacity": 1, "strokeWidth": 0},
   "encoding": {"x": {"field": "f", "type": "quantitative", "axis": null}, "y": {"field": "p", "type": "quantitative", "axis": null}}},
  {"data": {"name": "ca"}, "transform": [{"filter": "datum.k==='label'"}], "mark": {"type": "text", "fontSize": 19, "align": "center", "baseline": "middle", "color": "black"},
   "encoding": {"x": {"field": "f", "type": "quantitative", "axis": null}, "y": {"field": "p", "type": "quantitative", "axis": null}, "text": {"field": "t"}}},
  {"data": {"name": "ca"}, "transform": [{"filter": "datum.k==='star'"}], "mark": {"type": "text", "text": "*", "fontSize": 34, "fontWeight": "bold", "align": "center", "baseline": "alphabetic", "dy": 19, "color": "black"},
   "encoding": {"x": {"field": "f", "type": "quantitative", "axis": null}, "y": {"field": "p", "type": "quantitative", "axis": null}}}
 ],
 "resolve": {"axis": {"x": "independent", "y": "independent"}}
},
{
 "title": {"text": "Foy Lake", "dx": 7, "offset": 2},
 "width": 550, "height": 295,
 "layer": [
  {"data": {"name": "fs"}, "mark": {"type": "line", "color": "black", "strokeWidth": 2.3, "clip": true},
   "encoding": {
    "x": {"field": "f", "type": "quantitative", "scale": {"domain": [0, 0.03], "nice": false, "zero": false}, "axis": {"orient": "bottom", "values": [0,0.005,0.01,0.015,0.02,0.025], "format": "~g", "title": null, "labelPadding": 13}},
    "y": {"field": "p", "type": "quantitative", "scale": {"type": "log", "domain": [10, 1000000], "nice": false}, "axis": {"orient": "left", "values": [10,20,30,40,50,60,70,80,90,100,200,300,400,500,600,700,800,900,1000,2000,3000,4000,5000,6000,7000,8000,9000,10000,20000,30000,40000,50000,60000,70000,80000,90000,100000,200000,300000,400000,500000,600000,700000,800000,900000,1000000], "labelExpr": "abs(log(datum.value)/LN10-round(log(datum.value)/LN10))<0.01 ? '10'+replace(replace(replace(replace(replace(replace(replace(replace(''+round(log(datum.value)/LN10),'-','⁻'),'0','⁰'),'1','¹'),'2','²'),'3','³'),'4','⁴'),'5','⁵'),'6','⁶') : ''", "tickSize": {"condition": {"test": "abs(log(datum.value)/LN10-round(log(datum.value)/LN10))<0.01", "value": -6}, "value": -3}, "title": null}}
   }},
  {"data": {"name": "ff"}, "mark": {"type": "line", "color": "black", "strokeWidth": 2.3, "interpolate": "monotone", "clip": true},
   "encoding": {
    "x": {"field": "f", "type": "quantitative", "scale": {"domain": [0, 0.03], "nice": false, "zero": false}, "axis": {"orient": "top", "values": [0,0.005,0.01,0.015,0.02,0.025], "labels": false, "title": null}},
    "y": {"field": "p", "type": "quantitative", "scale": {"type": "log", "domain": [10, 1000000], "nice": false}, "axis": {"orient": "right", "values": [10,20,30,40,50,60,70,80,90,100,200,300,400,500,600,700,800,900,1000,2000,3000,4000,5000,6000,7000,8000,9000,10000,20000,30000,40000,50000,60000,70000,80000,90000,100000,200000,300000,400000,500000,600000,700000,800000,900000,1000000], "labels": false, "title": null, "tickSize": {"condition": {"test": "abs(log(datum.value)/LN10-round(log(datum.value)/LN10))<0.01", "value": -6}, "value": -3}}}
   }},
  {"data": {"name": "fc"}, "mark": {"type": "point", "shape": "square", "filled": true, "size": 30, "color": "black", "opacity": 1},
   "encoding": {"x": {"field": "f", "type": "quantitative", "axis": null}, "y": {"field": "p", "type": "quantitative", "axis": null}}},
  {"data": {"name": "fa"}, "transform": [{"filter": "datum.k==='arrow'"}], "mark": {"type": "point", "shape": "M-0.25,-1L0.25,-1L0.25,0.05L0.55,0.05L0,1L-0.55,0.05L-0.25,0.05Z", "filled": true, "size": 529, "color": "black", "opacity": 1, "strokeWidth": 0},
   "encoding": {"x": {"field": "f", "type": "quantitative", "axis": null}, "y": {"field": "p", "type": "quantitative", "axis": null}}},
  {"data": {"name": "fa"}, "transform": [{"filter": "datum.k==='label'"}], "mark": {"type": "text", "fontSize": 19, "align": "center", "baseline": "middle", "color": "black"},
   "encoding": {"x": {"field": "f", "type": "quantitative", "axis": null}, "y": {"field": "p", "type": "quantitative", "axis": null}, "text": {"field": "t"}}},
  {"data": {"name": "fa"}, "transform": [{"filter": "datum.k==='star'"}], "mark": {"type": "text", "text": "*", "fontSize": 34, "fontWeight": "bold", "align": "center", "baseline": "alphabetic", "dy": 19, "color": "black"},
   "encoding": {"x": {"field": "f", "type": "quantitative", "axis": null}, "y": {"field": "p", "type": "quantitative", "axis": null}}}
 ],
 "resolve": {"axis": {"x": "independent", "y": "independent"}}
},
{
 "title": {"text": "Morrison Lake", "dx": 11, "offset": 1},
 "width": 550, "height": 295,
 "layer": [
  {"data": {"name": "ms"}, "mark": {"type": "line", "color": "black", "strokeWidth": 2.3, "clip": true},
   "encoding": {
    "x": {"field": "f", "type": "quantitative", "scale": {"domain": [0, 0.03], "nice": false, "zero": false}, "axis": {"orient": "bottom", "values": [0,0.005,0.01,0.015,0.02,0.025], "format": "~g", "labelPadding": 13, "title": "Frequency", "titleX": 564, "titleY": 58, "titleAlign": "center", "titleBaseline": "alphabetic", "titleAngle": 0}},
    "y": {"field": "p", "type": "quantitative", "scale": {"type": "log", "domain": [0.001, 10], "nice": false}, "axis": {"orient": "left", "values": [0.001,0.002,0.003,0.004,0.005,0.006,0.007,0.008,0.009,0.01,0.02,0.03,0.04,0.05,0.06,0.07,0.08,0.09,0.1,0.2,0.3,0.4,0.5,0.6,0.7,0.8,0.9,1,2,3,4,5,6,7,8,9,10], "labelExpr": "datum.value > 0.0015 && abs(log(datum.value)/LN10-round(log(datum.value)/LN10))<0.01 ? '10'+replace(replace(replace(replace(replace(replace(replace(replace(''+round(log(datum.value)/LN10),'-','⁻'),'0','⁰'),'1','¹'),'2','²'),'3','³'),'4','⁴'),'5','⁵'),'6','⁶') : ''", "tickSize": {"condition": {"test": "abs(log(datum.value)/LN10-round(log(datum.value)/LN10))<0.01", "value": -6}, "value": -3}, "title": null}}
   }},
  {"data": {"name": "mf"}, "mark": {"type": "line", "color": "black", "strokeWidth": 2.3, "interpolate": "monotone", "clip": true},
   "encoding": {
    "x": {"field": "f", "type": "quantitative", "scale": {"domain": [0, 0.03], "nice": false, "zero": false}, "axis": {"orient": "top", "values": [0,0.005,0.01,0.015,0.02,0.025], "labels": false, "title": null}},
    "y": {"field": "p", "type": "quantitative", "scale": {"type": "log", "domain": [0.001, 10], "nice": false}, "axis": {"orient": "right", "values": [0.001,0.002,0.003,0.004,0.005,0.006,0.007,0.008,0.009,0.01,0.02,0.03,0.04,0.05,0.06,0.07,0.08,0.09,0.1,0.2,0.3,0.4,0.5,0.6,0.7,0.8,0.9,1,2,3,4,5,6,7,8,9,10], "labels": false, "title": null, "tickSize": {"condition": {"test": "abs(log(datum.value)/LN10-round(log(datum.value)/LN10))<0.01", "value": -6}, "value": -3}}}
   }},
  {"data": {"name": "mc"}, "mark": {"type": "point", "shape": "square", "filled": true, "size": 30, "color": "black", "opacity": 1},
   "encoding": {"x": {"field": "f", "type": "quantitative", "axis": null}, "y": {"field": "p", "type": "quantitative", "axis": null}}},
  {"data": {"name": "ma"}, "transform": [{"filter": "datum.k==='arrow'"}], "mark": {"type": "point", "shape": "M-0.25,-1L0.25,-1L0.25,0.05L0.55,0.05L0,1L-0.55,0.05L-0.25,0.05Z", "filled": true, "size": 529, "color": "black", "opacity": 1, "strokeWidth": 0},
   "encoding": {"x": {"field": "f", "type": "quantitative", "axis": null}, "y": {"field": "p", "type": "quantitative", "axis": null}}},
  {"data": {"name": "ma"}, "transform": [{"filter": "datum.k==='label'"}], "mark": {"type": "text", "fontSize": 19, "align": "center", "baseline": "middle", "color": "black"},
   "encoding": {"x": {"field": "f", "type": "quantitative", "axis": null}, "y": {"field": "p", "type": "quantitative", "axis": null}, "text": {"field": "t"}}},
  {"data": {"name": "ma"}, "transform": [{"filter": "datum.k==='star'"}], "mark": {"type": "text", "text": "*", "fontSize": 34, "fontWeight": "bold", "align": "center", "baseline": "alphabetic", "dy": 19, "color": "black"},
   "encoding": {"x": {"field": "f", "type": "quantitative", "axis": null}, "y": {"field": "p", "type": "quantitative", "axis": null}}}
 ],
 "resolve": {"axis": {"x": "independent", "y": "independent"}}
},
{
 "title": {"text": "Reservoir Lake", "dx": 15, "offset": 2},
 "width": 550, "height": 295,
 "layer": [
  {"data": {"name": "rs"}, "mark": {"type": "line", "color": "black", "strokeWidth": 2.3, "clip": true},
   "encoding": {
    "x": {"field": "f", "type": "quantitative", "scale": {"domain": [0, 0.03], "nice": false, "zero": false}, "axis": {"orient": "bottom", "values": [0,0.005,0.01,0.015,0.02,0.025], "format": "~g", "title": null, "labelPadding": 13}},
    "y": {"field": "p", "type": "quantitative", "scale": {"type": "log", "domain": [0.001, 100], "nice": false}, "axis": {"orient": "left", "values": [0.001,0.002,0.003,0.004,0.005,0.006,0.007,0.008,0.009,0.01,0.02,0.03,0.04,0.05,0.06,0.07,0.08,0.09,0.1,0.2,0.3,0.4,0.5,0.6,0.7,0.8,0.9,1,2,3,4,5,6,7,8,9,10,20,30,40,50,60,70,80,90,100], "labelExpr": "datum.value < 50 && abs(log(datum.value)/LN10-round(log(datum.value)/LN10))<0.01 ? '10'+replace(replace(replace(replace(replace(replace(replace(replace(''+round(log(datum.value)/LN10),'-','⁻'),'0','⁰'),'1','¹'),'2','²'),'3','³'),'4','⁴'),'5','⁵'),'6','⁶') : ''", "tickSize": {"condition": {"test": "abs(log(datum.value)/LN10-round(log(datum.value)/LN10))<0.01", "value": -6}, "value": -3}, "title": null}}
   }},
  {"data": {"name": "rf"}, "mark": {"type": "line", "color": "black", "strokeWidth": 2.3, "interpolate": "monotone", "clip": true},
   "encoding": {
    "x": {"field": "f", "type": "quantitative", "scale": {"domain": [0, 0.03], "nice": false, "zero": false}, "axis": {"orient": "top", "values": [0,0.005,0.01,0.015,0.02,0.025], "labels": false, "title": null}},
    "y": {"field": "p", "type": "quantitative", "scale": {"type": "log", "domain": [0.001, 100], "nice": false}, "axis": {"orient": "right", "values": [0.001,0.002,0.003,0.004,0.005,0.006,0.007,0.008,0.009,0.01,0.02,0.03,0.04,0.05,0.06,0.07,0.08,0.09,0.1,0.2,0.3,0.4,0.5,0.6,0.7,0.8,0.9,1,2,3,4,5,6,7,8,9,10,20,30,40,50,60,70,80,90,100], "labels": false, "title": null, "tickSize": {"condition": {"test": "abs(log(datum.value)/LN10-round(log(datum.value)/LN10))<0.01", "value": -6}, "value": -3}}}
   }},
  {"data": {"name": "rc"}, "mark": {"type": "point", "shape": "square", "filled": true, "size": 30, "color": "black", "opacity": 1},
   "encoding": {"x": {"field": "f", "type": "quantitative", "axis": null}, "y": {"field": "p", "type": "quantitative", "axis": null}}},
  {"data": {"name": "ra"}, "transform": [{"filter": "datum.k==='arrow'"}], "mark": {"type": "point", "shape": "M-0.25,-1L0.25,-1L0.25,0.05L0.55,0.05L0,1L-0.55,0.05L-0.25,0.05Z", "filled": true, "size": 529, "color": "black", "opacity": 1, "strokeWidth": 0},
   "encoding": {"x": {"field": "f", "type": "quantitative", "axis": null}, "y": {"field": "p", "type": "quantitative", "axis": null}}},
  {"data": {"name": "ra"}, "transform": [{"filter": "datum.k==='bigarrow'"}], "mark": {"type": "point", "shape": "M-1.17,-1L1.17,-1L1.17,0.04L2.35,0.04L0,1L-2.35,0.04L-1.17,0.04Z", "filled": true, "size": 529, "color": "black", "opacity": 1, "strokeWidth": 0},
   "encoding": {"x": {"field": "f", "type": "quantitative", "axis": null}, "y": {"field": "p", "type": "quantitative", "axis": null}}},
  {"data": {"name": "ra"}, "transform": [{"filter": "datum.k==='label'"}], "mark": {"type": "text", "fontSize": 19, "align": "center", "baseline": "middle", "color": "black"},
   "encoding": {"x": {"field": "f", "type": "quantitative", "axis": null}, "y": {"field": "p", "type": "quantitative", "axis": null}, "text": {"field": "t"}}},
  {"data": {"name": "ra"}, "transform": [{"filter": "datum.k==='star'"}], "mark": {"type": "text", "text": "*", "fontSize": 34, "fontWeight": "bold", "align": "center", "baseline": "alphabetic", "dy": 19, "color": "black"},
   "encoding": {"x": {"field": "f", "type": "quantitative", "axis": null}, "y": {"field": "p", "type": "quantitative", "axis": null}}}
 ],
 "resolve": {"axis": {"x": "independent", "y": "independent"}}
}
]
}
